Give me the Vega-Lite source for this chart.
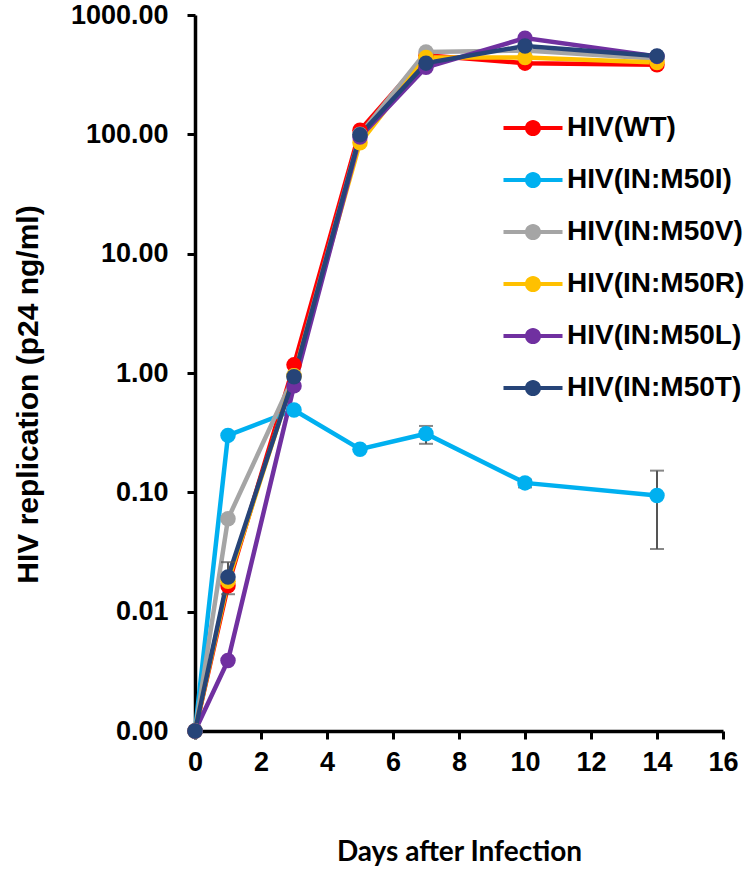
{
  "$schema": "https://vega.github.io/schema/vega-lite/v6.json",
  "width": 528,
  "height": 716,
  "autosize": "none",
  "padding": {"left": 195, "top": 15, "right": 27, "bottom": 139},
  "background": "white",
  "datasets": {
    "series": [
      {"series": "HIV(WT)", "day": 0, "value": 0.001},
      {"series": "HIV(WT)", "day": 1, "value": 0.0165},
      {"series": "HIV(WT)", "day": 3, "value": 1.17},
      {"series": "HIV(WT)", "day": 5, "value": 108},
      {"series": "HIV(WT)", "day": 7, "value": 460},
      {"series": "HIV(WT)", "day": 10, "value": 395},
      {"series": "HIV(WT)", "day": 14, "value": 382},
      {"series": "HIV(IN:M50I)", "day": 0, "value": 0.001},
      {"series": "HIV(IN:M50I)", "day": 1, "value": 0.3},
      {"series": "HIV(IN:M50I)", "day": 3, "value": 0.49},
      {"series": "HIV(IN:M50I)", "day": 5, "value": 0.23},
      {"series": "HIV(IN:M50I)", "day": 7, "value": 0.31},
      {"series": "HIV(IN:M50I)", "day": 10, "value": 0.12},
      {"series": "HIV(IN:M50I)", "day": 14, "value": 0.094},
      {"series": "HIV(IN:M50V)", "day": 0, "value": 0.001},
      {"series": "HIV(IN:M50V)", "day": 1, "value": 0.06},
      {"series": "HIV(IN:M50V)", "day": 3, "value": 0.95},
      {"series": "HIV(IN:M50V)", "day": 5, "value": 100},
      {"series": "HIV(IN:M50V)", "day": 7, "value": 490},
      {"series": "HIV(IN:M50V)", "day": 10, "value": 505},
      {"series": "HIV(IN:M50V)", "day": 14, "value": 430},
      {"series": "HIV(IN:M50R)", "day": 0, "value": 0.001},
      {"series": "HIV(IN:M50R)", "day": 1, "value": 0.018},
      {"series": "HIV(IN:M50R)", "day": 3, "value": 0.95},
      {"series": "HIV(IN:M50R)", "day": 5, "value": 85},
      {"series": "HIV(IN:M50R)", "day": 7, "value": 440},
      {"series": "HIV(IN:M50R)", "day": 10, "value": 440},
      {"series": "HIV(IN:M50R)", "day": 14, "value": 400},
      {"series": "HIV(IN:M50L)", "day": 0, "value": 0.001},
      {"series": "HIV(IN:M50L)", "day": 1, "value": 0.0039},
      {"series": "HIV(IN:M50L)", "day": 3, "value": 0.78},
      {"series": "HIV(IN:M50L)", "day": 5, "value": 95},
      {"series": "HIV(IN:M50L)", "day": 7, "value": 365},
      {"series": "HIV(IN:M50L)", "day": 10, "value": 640},
      {"series": "HIV(IN:M50L)", "day": 14, "value": 450},
      {"series": "HIV(IN:M50T)", "day": 0, "value": 0.001},
      {"series": "HIV(IN:M50T)", "day": 1, "value": 0.0195},
      {"series": "HIV(IN:M50T)", "day": 3, "value": 0.93},
      {"series": "HIV(IN:M50T)", "day": 5, "value": 99},
      {"series": "HIV(IN:M50T)", "day": 7, "value": 395},
      {"series": "HIV(IN:M50T)", "day": 10, "value": 550},
      {"series": "HIV(IN:M50T)", "day": 14, "value": 453}
    ],
    "errors": [
      {"series": "HIV(WT)", "day": 1, "lo": 0.014, "hi": 0.026},
      {"series": "HIV(IN:M50I)", "day": 7, "lo": 0.255, "hi": 0.36},
      {"series": "HIV(IN:M50I)", "day": 10, "lo": 0.11, "hi": 0.128},
      {"series": "HIV(IN:M50I)", "day": 14, "lo": 0.0335, "hi": 0.152}
    ]
  },
  "layer": [
    {
      "data": {"name": "series"},
      "mark": {"type": "line", "strokeWidth": 4.5},
      "encoding": {
        "x": {"field": "day", "type": "quantitative", "title": "Days after Infection"},
        "y": {"field": "value", "type": "quantitative", "title": "HIV replication (p24 ng/ml)"},
        "color": {"field": "series", "type": "nominal"}
      }
    },
    {
      "data": {"name": "errors"},
      "mark": {"type": "errorbar", "ticks": true, "size": 14, "thickness": 2, "color": "#555555"},
      "encoding": {
        "x": {"field": "day", "type": "quantitative", "title": "Days after Infection"},
        "y": {"field": "lo", "type": "quantitative", "title": "HIV replication (p24 ng/ml)"},
        "y2": {"field": "hi"}
      }
    },
    {
      "data": {"name": "series"},
      "mark": {"type": "point", "shape": "circle", "filled": true, "opacity": 1, "size": 240},
      "encoding": {
        "x": {"field": "day", "type": "quantitative", "title": "Days after Infection",
          "scale": {"domain": [0, 16], "nice": false},
          "axis": {
            "values": [0,1,2,3,4,5,6,7,8,9,10,11,12,13,14,15,16],
            "labelExpr": "datum.value % 2 == 0 ? datum.label : ''",
            "labelFlush": false,
            "titleX": 264, "titleY": 129, "titleBaseline": "alphabetic",
            "titleFont": "Lato", "titleFontSize": 28, "titleFontWeight": "bold",
            "labelPadding": 10
          }
        },
        "y": {"field": "value", "type": "quantitative", "title": "HIV replication (p24 ng/ml)",
          "scale": {"type": "log", "domain": [0.001, 1000], "nice": false},
          "axis": {
            "values": [0.001, 0.01, 0.1, 1, 10, 100, 1000],
            "format": ".2f",
            "labelFlush": false,
            "titleX": -158, "titleY": 379, "titleAngle": -90, "titleBaseline": "alphabetic",
            "titleAlign": "center",
            "titleFont": "Liberation Sans", "titleFontSize": 30, "titleFontWeight": "bold",
            "labelPadding": 19, "labelBaseline": "middle"
          }
        },
        "color": {
          "field": "series", "type": "nominal",
          "scale": {
            "domain": ["HIV(WT)", "HIV(IN:M50I)", "HIV(IN:M50V)", "HIV(IN:M50R)", "HIV(IN:M50L)", "HIV(IN:M50T)"],
            "range": ["#FF0000", "#00B0F0", "#A5A5A5", "#FFC000", "#7030A0", "#264478"]
          },
          "legend": {
            "title": null,
            "orient": "none",
            "legendX": 312,
            "legendY": 87,
            "padding": 0,
            "rowPadding": 12,
            "symbolSize": 2704,
            "symbolStrokeWidth": 0,
            "symbolOpacity": 1,
            "symbolType": "M-1.135,-0.077H1.135V0.077H-1.135Z M-0.31,0A0.31,0.31,0,1,1,0.31,0A0.31,0.31,0,1,1,-0.31,0Z",
            "labelOffset": 8,
            "labelFont": "Liberation Sans",
            "labelFontSize": 28,
            "labelFontWeight": "bold",
            "labelColor": "black",
            "labelLimit": 300
          }
        }
      }
    }
  ],
  "config": {
    "view": {"stroke": null},
    "axis": {
      "grid": false,
      "domainColor": "black",
      "domainWidth": 3.5,
      "tickColor": "black",
      "tickWidth": 3,
      "tickSize": 8,
      "labelFont": "Liberation Sans",
      "labelFontSize": 27,
      "labelFontWeight": "bold",
      "labelColor": "black",
      "titleColor": "black"
    }
  }
}
